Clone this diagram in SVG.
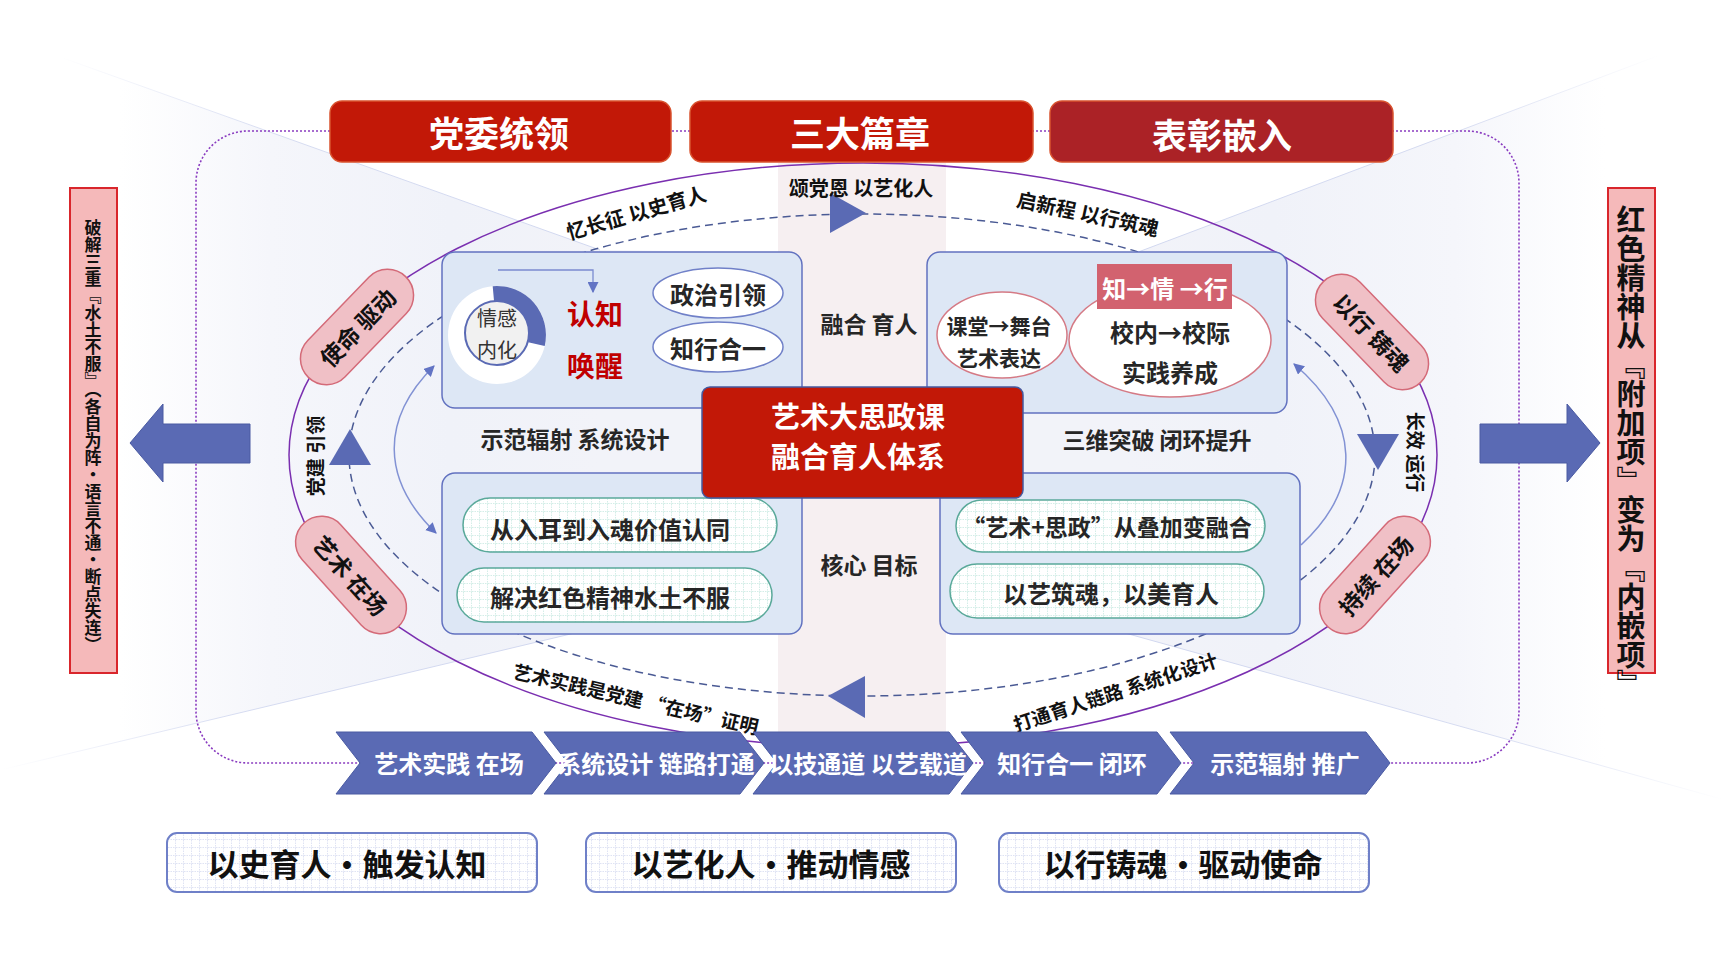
<svg xmlns="http://www.w3.org/2000/svg" width="1725" height="963" viewBox="0 0 1725 963">
<defs>
<style>
.t{font-family:'Noto Sans CJK SC','Noto Sans CJK JP',sans-serif;text-anchor:middle;dominant-baseline:central}
.b{font-weight:700}
.w{fill:#ffffff}
.k{fill:#111111}
.d{fill:#262626}
.title{stroke:#d9532f;stroke-width:1.5}
.ibox{fill:#dde7f5;stroke:#6272c0;stroke-width:1.5}
.pill{fill:#f0c0c6;stroke:#d46a78;stroke-width:1.5}
.tpill{fill:url(#gridT);stroke:#5aa99a;stroke-width:1.5}
.bbox{fill:url(#gridB);stroke:#6f80c8;stroke-width:2}
.chev{fill:#5a6ab4;stroke:#4a5aa2;stroke-width:1}
.blue{fill:#5a6ab4}
.vert{writing-mode:vertical-rl}
</style>
<linearGradient id="gL" x1="0" y1="0" x2="1" y2="0">
<stop offset="0" stop-color="#ffffff"/>
<stop offset="0.2" stop-color="#ffffff"/>
<stop offset="0.45" stop-color="#f5f6fb"/>
<stop offset="0.75" stop-color="#f0f2f9"/>
<stop offset="1" stop-color="#f2f3f9"/>
</linearGradient>
<linearGradient id="gR" x1="1" y1="0" x2="0" y2="0">
<stop offset="0" stop-color="#ffffff"/>
<stop offset="0.2" stop-color="#ffffff"/>
<stop offset="0.45" stop-color="#f5f6fb"/>
<stop offset="0.75" stop-color="#f0f2f9"/>
<stop offset="1" stop-color="#f2f3f9"/>
</linearGradient>
<linearGradient id="lnL" x1="0" y1="0" x2="1" y2="0">
<stop offset="0" stop-color="#cdd4ee" stop-opacity="0"/>
<stop offset="0.4" stop-color="#cdd4ee" stop-opacity="0.8"/>
<stop offset="1" stop-color="#cdd4ee" stop-opacity="0.9"/>
</linearGradient>
<linearGradient id="lnR" x1="1" y1="0" x2="0" y2="0">
<stop offset="0" stop-color="#cdd4ee" stop-opacity="0"/>
<stop offset="0.4" stop-color="#cdd4ee" stop-opacity="0.8"/>
<stop offset="1" stop-color="#cdd4ee" stop-opacity="0.9"/>
</linearGradient>
<pattern id="gridB" width="8" height="8" patternUnits="userSpaceOnUse">
<rect width="8" height="8" fill="#ffffff"/>
<path d="M7.5 0 V8 M0 7.5 H8" stroke="#dfe3f4" stroke-width="1" stroke-dasharray="1.5 1"/>
</pattern>
<pattern id="gridT" width="8" height="8" patternUnits="userSpaceOnUse">
<rect width="8" height="8" fill="#ffffff"/>
<path d="M7.5 0 V8 M0 7.5 H8" stroke="#d3eee8" stroke-width="1" stroke-dasharray="1.5 1"/>
</pattern>
<marker id="ah" viewBox="0 0 10 10" refX="9" refY="5" markerWidth="11" markerHeight="11" markerUnits="userSpaceOnUse" orient="auto-start-reverse">
<path d="M0,0 L10,5 L0,10 z" fill="#6274c4"/>
</marker>
</defs>

<g id="background">
<rect width="1725" height="963" fill="#ffffff"/>
<polygon points="0,36 600,250 600,627 0,770" fill="url(#gL)"/>
<polygon points="1725,30 1125,257 1125,633 1725,800" fill="url(#gR)"/>
<polygon points="600,250 1125,257 1125,633 600,627" fill="#f2f3f9"/>
<g stroke-width="1" fill="none">
<line x1="60" y1="57" x2="600" y2="250" stroke="url(#lnL)"/>
<line x1="0" y1="770" x2="600" y2="627" stroke="url(#lnL)"/>
<line x1="1660" y1="55" x2="1125" y2="257" stroke="url(#lnR)"/>
<line x1="1725" y1="800" x2="1125" y2="633" stroke="url(#lnR)"/>
</g>
<rect x="196" y="131" width="1323" height="632" rx="52" fill="none" stroke="#8a3cc0" stroke-width="1.6" stroke-dasharray="2 2"/>
<rect x="778" y="163" width="168" height="572" fill="#f6eff1"/>
</g>

<g id="connectors" fill="none">
<ellipse cx="863" cy="455" rx="574" ry="292" stroke="#7a2fb0" stroke-width="1.5"/>
<ellipse cx="862" cy="455" rx="513" ry="241" stroke="#4a5a94" stroke-width="1.5" stroke-dasharray="8 5"/>
<path d="M436 533 A470 205 0 0 1 434 366" stroke="#8292d4" stroke-width="1.5" marker-start="url(#ah)" marker-end="url(#ah)"/>
<path d="M1301 545 A470 205 0 0 0 1294 364" stroke="#8292d4" stroke-width="1.5" marker-end="url(#ah)"/>
<polygon class="blue" points="830,193 866,213 830,233"/>
<polygon class="blue" points="828,696 865,676 865,718"/>
<polygon class="blue" points="350,429 371,465 329,465"/>
<polygon class="blue" points="1357,434 1399,434 1378,470"/>
<polygon class="blue" stroke="#4a5aa2" stroke-width="1" points="130,443 163,404 163,424 250,424 250,463 163,463 163,482"/>
<polygon class="blue" stroke="#4a5aa2" stroke-width="1" points="1600,443 1567,404 1567,424 1480,424 1480,463 1567,463 1567,482"/>
</g>

<g id="title-left">
<rect class="title" x="330" y="101" width="341" height="61" rx="12" fill="#c21807"/>
<text class="t b w" x="499" y="131" font-size="35">党委统领</text>
</g>
<g id="title-mid">
<rect class="title" x="690" y="101" width="343" height="61" rx="12" fill="#c21807"/>
<text class="t b w" x="860" y="131" font-size="35">三大篇章</text>
</g>
<g id="title-right">
<rect class="title" x="1050" y="101" width="343" height="61" rx="12" fill="#ab2226"/>
<text class="t b w" x="1222" y="133" font-size="35">表彰嵌入</text>
</g>

<g id="arc-labels">
<text class="t b k" x="861" y="187" font-size="20">颂党恩 以艺化人</text>
<text class="t b k" font-size="20" transform="translate(636,212) rotate(-16)">忆长征 以史育人</text>
<text class="t b k" font-size="20" transform="translate(1088,213) rotate(12)">启新程 以行筑魂</text>
<text class="t b k" font-size="19" transform="translate(314,456) rotate(-90)">党建 引领</text>
<text class="t b k" font-size="19" transform="translate(1416,452) rotate(90)">长效 运行</text>
<text class="t b k" font-size="19" transform="translate(636,698) rotate(13)">艺术实践是党建 “在场”证明</text>
<text class="t b k" font-size="19" transform="translate(1115,691) rotate(-18)">打通育人链路 系统化设计</text>
</g>

<g id="box-top-left">
<rect class="ibox" x="442" y="252" width="360" height="156" rx="13"/>
<circle cx="497" cy="335" r="49" fill="#ffffff"/>
<path d="M492.7 286.2 A49 49 0 0 1 544.7 346 L528.2 342.2 A32 32 0 0 0 494.2 303.1 Z" fill="#5a6ab4"/>
<circle cx="497" cy="333" r="32" fill="#f1f1f1" stroke="#5a6ab4" stroke-width="2"/>
<text class="t" x="497" y="317" font-size="20" fill="#333333">情感</text>
<text class="t" x="497" y="349" font-size="20" fill="#333333">内化</text>
<path d="M498 270 H593 V292" fill="none" stroke="#7b8bd0" stroke-width="1.3" marker-end="url(#ah)"/>
<text class="t b" x="595" y="313" font-size="28" fill="#c00000">认知</text>
<text class="t b" x="595" y="365" font-size="28" fill="#c00000">唤醒</text>
<ellipse cx="718" cy="293" rx="65" ry="25" fill="#ffffff" stroke="#7080c8" stroke-width="1.5"/>
<text class="t b d" x="718" y="293" font-size="24">政治引领</text>
<ellipse cx="718" cy="347" rx="65" ry="25" fill="#ffffff" stroke="#7080c8" stroke-width="1.5"/>
<text class="t b d" x="718" y="347" font-size="24">知行合一</text>
</g>

<g id="box-top-right">
<rect class="ibox" x="927" y="252" width="360" height="161" rx="13"/>
<ellipse cx="1002" cy="335" rx="65" ry="43" fill="#ffffff" stroke="#d57a85" stroke-width="1.5"/>
<text class="t b d" x="999" y="325" font-size="21">课堂→舞台</text>
<text class="t b d" x="999" y="357" font-size="21">艺术表达</text>
<ellipse cx="1170" cy="340" rx="101" ry="57" fill="#ffffff" stroke="#d57a85" stroke-width="1.5"/>
<rect x="1097" y="264" width="135" height="45" fill="#d2626f"/>
<text class="t b w" x="1165" y="287" font-size="24">知→情 →行</text>
<text class="t b d" x="1170" y="331" font-size="24">校内→校际</text>
<text class="t b d" x="1170" y="371" font-size="24">实践养成</text>
</g>

<g id="box-bottom-left">
<rect class="ibox" x="442" y="473" width="360" height="161" rx="13"/>
<rect class="tpill" x="463" y="498" width="314" height="54" rx="27"/>
<text class="t b d" x="610" y="528" font-size="24">从入耳到入魂价值认同</text>
<rect class="tpill" x="457" y="568" width="315" height="54" rx="27"/>
<text class="t b d" x="610" y="596" font-size="24">解决红色精神水土不服</text>
</g>

<g id="box-bottom-right">
<rect class="ibox" x="940" y="473" width="360" height="161" rx="13"/>
<rect class="tpill" x="956" y="500" width="309" height="52" rx="26"/>
<text class="t b d" x="1107" y="526" font-size="23">“艺术+思政”从叠加变融合</text>
<rect class="tpill" x="950" y="564" width="314" height="54" rx="27"/>
<text class="t b d" x="1111" y="592" font-size="24">以艺筑魂，以美育人</text>
</g>

<g id="band-labels">
<text class="t b d" x="869" y="323" font-size="23">融合 育人</text>
<text class="t b d" x="869" y="564" font-size="23">核心 目标</text>
<text class="t b d" x="575" y="438" font-size="23">示范辐射 系统设计</text>
<text class="t b d" x="1157" y="439" font-size="23">三维突破 闭环提升</text>
</g>

<g id="center-node">
<rect x="702" y="387" width="321" height="111" rx="8" fill="#c21807" stroke="#4459a0" stroke-width="1.5"/>
<text class="t b w" x="858" y="415" font-size="29">艺术大思政课</text>
<text class="t b w" x="858" y="455" font-size="29">融合育人体系</text>
</g>

<g id="pill-mission">
<g transform="translate(357,327) rotate(-46)">
<rect class="pill" x="-70" y="-26" width="140" height="52" rx="26"/>
<text class="t b k" x="0" y="0" font-size="23">使命 驱动</text>
</g>
</g>
<g id="pill-soul">
<g transform="translate(1372,332) rotate(46)">
<rect class="pill" x="-70" y="-26" width="140" height="52" rx="26"/>
<text class="t b k" x="0" y="0" font-size="23">以行 铸魂</text>
</g>
</g>
<g id="pill-art">
<g transform="translate(351,575) rotate(48)">
<rect class="pill" x="-70" y="-26" width="140" height="52" rx="26"/>
<text class="t b k" x="0" y="0" font-size="23">艺术 在场</text>
</g>
</g>
<g id="pill-continue">
<g transform="translate(1375,575) rotate(-48)">
<rect class="pill" x="-70" y="-26" width="140" height="52" rx="26"/>
<text class="t b k" x="0" y="0" font-size="23">持续 在场</text>
</g>
</g>

<g id="chevron-1">
<polygon class="chev" points="336,732 532,732 556,763 532,794 336,794 360,763"/>
<text class="t b w" x="449" y="762" font-size="24">艺术实践 在场</text>
</g>
<g id="chevron-2">
<polygon class="chev" points="544,732 740,732 764,763 740,794 544,794 568,763"/>
<text class="t b w" x="656" y="762" font-size="24">系统设计 链路打通</text>
</g>
<g id="chevron-3">
<polygon class="chev" points="753,732 949,732 973,763 949,794 753,794 777,763"/>
<text class="t b w" x="868" y="762" font-size="24">以技通道 以艺载道</text>
</g>
<g id="chevron-4">
<polygon class="chev" points="961,732 1157,732 1181,763 1157,794 961,794 985,763"/>
<text class="t b w" x="1072" y="762" font-size="24">知行合一 闭环</text>
</g>
<g id="chevron-5">
<polygon class="chev" points="1170,732 1366,732 1390,763 1366,794 1170,794 1194,763"/>
<text class="t b w" x="1285" y="762" font-size="24">示范辐射 推广</text>
</g>

<g id="side-left">
<rect x="70" y="188" width="47" height="485" fill="#f5b9ba" stroke="#d9262c" stroke-width="2"/>
<text class="t b k vert" x="93" y="436" font-size="17">破解三重『水土不服』（各自为阵・语言不通・断点失连）</text>
</g>
<g id="side-right">
<rect x="1608" y="188" width="47" height="485" fill="#f5b9ba" stroke="#d9262c" stroke-width="2"/>
<text class="t b k vert" x="1631" y="452" font-size="29">红色精神从『附加项』变为『内嵌项』</text>
</g>

<g id="bottom-1">
<rect class="bbox" x="167" y="833" width="370" height="59" rx="10"/>
<text class="t b k" x="347" y="862" font-size="31">以史育人・触发认知</text>
</g>
<g id="bottom-2">
<rect class="bbox" x="586" y="833" width="370" height="59" rx="10"/>
<text class="t b k" x="771" y="862" font-size="31">以艺化人・推动情感</text>
</g>
<g id="bottom-3">
<rect class="bbox" x="999" y="833" width="370" height="59" rx="10"/>
<text class="t b k" x="1183" y="862" font-size="31">以行铸魂・驱动使命</text>
</g>
</svg>
